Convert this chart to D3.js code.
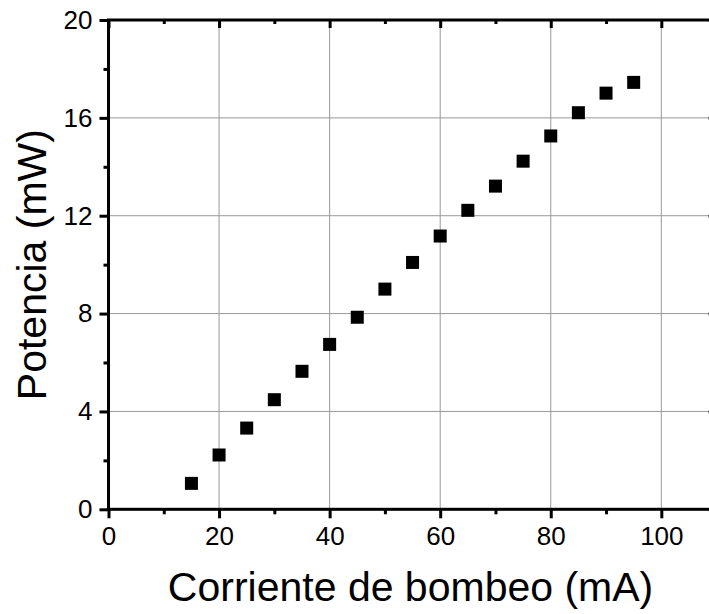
<!DOCTYPE html>
<html>
<head>
<meta charset="utf-8">
<script src="https://cdn.jsdelivr.net/npm/d3@7"></script>
<style>
  html, body { margin: 0; padding: 0; background: #fff; overflow: hidden; }
  svg { display: block; }
  text { font-family: "Liberation Sans", Arial, sans-serif; fill: #000; }
</style>
</head>
<body>
<svg id="chart" width="709" height="614"></svg>
<script>
// Pump current (mA) and measured optical power (mW)
const corriente = [15, 20, 25, 30, 35, 40, 45, 50, 55, 60, 65, 70, 75, 80, 85, 90, 95];
const potencia  = [1.06, 2.22, 3.32, 4.48, 5.64, 6.74, 7.85, 9.00, 10.09, 11.17, 12.22, 13.21, 14.23, 15.26, 16.21, 17.01, 17.45];

const xMajorTicks = [0, 20, 40, 60, 80, 100];
const xMinorTicks = [10, 30, 50, 70, 90];
const yMajorTicks = [0, 4, 8, 12, 16, 20];
const yMinorTicks = [2, 6, 10, 14, 18];

const xTitle = "Corriente de bombeo (mA)";
const yTitle = "Potencia (mW)";

const svg = d3.select("#chart");

const plotLeft = 108.5, plotRight = 716.6, plotTop = 20, plotBottom = 509.3;
const x = d3.scaleLinear().domain([0, 110]).range([plotLeft, plotRight]);
const y = d3.scaleLinear().domain([0, 20]).range([plotBottom, plotTop]);

// grid
const grid = svg.append("g").attr("stroke", "#999").attr("stroke-width", 1);
grid.selectAll("line.gx").data(xMajorTicks).join("line")
  .attr("class", "gx")
  .attr("x1", d => x(d)).attr("x2", d => x(d))
  .attr("y1", plotTop).attr("y2", plotBottom);
grid.selectAll("line.gy").data(yMajorTicks).join("line")
  .attr("class", "gy")
  .attr("y1", d => y(d)).attr("y2", d => y(d))
  .attr("x1", plotLeft).attr("x2", plotRight);

function styleAxis(g) {
  g.select(".domain").remove();
  g.selectAll(".tick line").attr("stroke", "#000").attr("stroke-width", 3);
  g.selectAll(".tick text").style("font-size", "26px").attr("fill", "#000");
}

// bottom axis (outward ticks)
svg.append("g").attr("transform", `translate(0,${plotBottom})`)
  .call(d3.axisBottom(x).tickValues(xMajorTicks).tickSize(9).tickPadding(8).tickFormat(d3.format("d")))
  .call(styleAxis);
svg.append("g").attr("transform", `translate(0,${plotBottom})`)
  .call(d3.axisBottom(x).tickValues(xMinorTicks).tickSize(5).tickFormat(""))
  .call(styleAxis);

// top axis (inward ticks)
svg.append("g").attr("transform", `translate(0,${plotTop})`)
  .call(d3.axisBottom(x).tickValues(xMajorTicks).tickSize(8).tickFormat(""))
  .call(styleAxis);
svg.append("g").attr("transform", `translate(0,${plotTop})`)
  .call(d3.axisBottom(x).tickValues(xMinorTicks).tickSize(4).tickFormat(""))
  .call(styleAxis);

// left axis (outward ticks)
svg.append("g").attr("transform", `translate(${plotLeft},0)`)
  .call(d3.axisLeft(y).tickValues(yMajorTicks).tickSize(9).tickPadding(7).tickFormat(d3.format("d")))
  .call(styleAxis);
svg.append("g").attr("transform", `translate(${plotLeft},0)`)
  .call(d3.axisLeft(y).tickValues(yMinorTicks).tickSize(5).tickFormat(""))
  .call(styleAxis);

// right axis (inward ticks)
svg.append("g").attr("transform", `translate(${plotRight},0)`)
  .call(d3.axisLeft(y).tickValues(yMajorTicks).tickSize(8).tickFormat(""))
  .call(styleAxis);
svg.append("g").attr("transform", `translate(${plotRight},0)`)
  .call(d3.axisLeft(y).tickValues(yMinorTicks).tickSize(4).tickFormat(""))
  .call(styleAxis);

// frame
svg.append("rect")
  .attr("x", plotLeft).attr("y", plotTop)
  .attr("width", plotRight - plotLeft).attr("height", plotBottom - plotTop)
  .attr("fill", "none").attr("stroke", "#000").attr("stroke-width", 3);

// data markers
const size = 13;
svg.append("g").selectAll("rect").data(corriente).join("rect")
  .attr("x", d => x(d) - size / 2)
  .attr("y", (d, i) => y(potencia[i]) - size / 2)
  .attr("width", size).attr("height", size)
  .attr("fill", "#000");

// axis titles
svg.append("text")
  .attr("x", (plotLeft + plotRight) / 2 - 2).attr("y", 601)
  .attr("text-anchor", "middle")
  .style("font-size", "41px")
  .text(xTitle);

svg.append("text")
  .attr("transform", `translate(46,${(plotTop + plotBottom) / 2}) rotate(-90)`)
  .attr("text-anchor", "middle")
  .style("font-size", "41px")
  .text(yTitle);
</script>
</body>
</html>
